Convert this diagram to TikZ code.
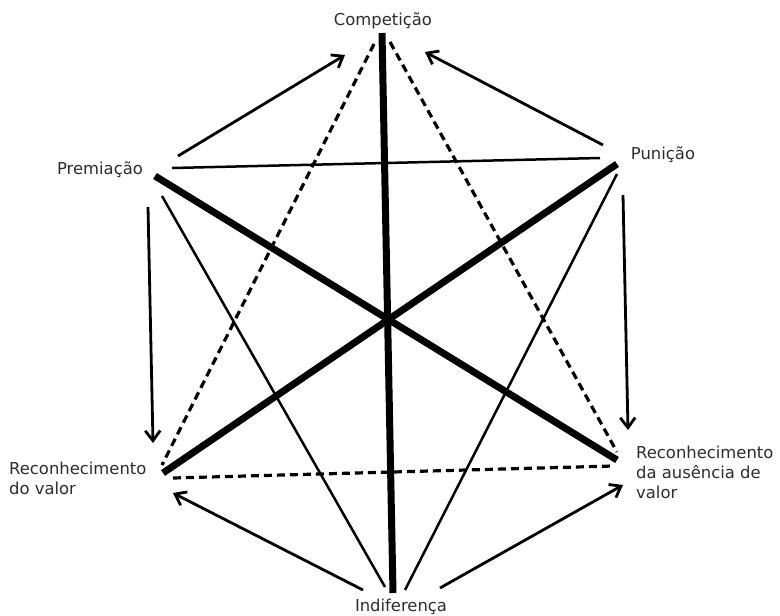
\documentclass[tikz,border=0pt]{standalone}
\usepackage{fontspec}
\setmainfont{DejaVu Sans}
\usetikzlibrary{arrows.meta}
\definecolor{txt}{RGB}{45,45,45}
\begin{document}
\begin{tikzpicture}[x=1pt,y=-1pt,
  lbl/.style={font=\fontsize{16.4}{20}\selectfont, text=txt, inner sep=0pt},
  thickln/.style={line width=7pt},
  thinln/.style={line width=2.5pt},
  dashln/.style={line width=3.2pt, dash pattern=on 8pt off 5pt},
  arr/.style={line width=2.8pt, -{Straight Barb[length=10pt,width=15pt,line width=2.8pt]}}]
\useasboundingbox[fill=white] (0,0) rectangle (780,616);
% labels
\node[lbl] (comp) at (383,21) {Competição};
\node[lbl] (prem) at (100,170) {Premiação};
\node[lbl] (pun) at (663,155) {Punição};
\node[lbl, anchor=west, align=left] (rval) at (9,478) {Reconhecimento\\do valor};
\node[lbl, anchor=west, align=left] (raus) at (636,472) {Reconhecimento\\da ausência de\\valor};
\node[lbl, anchor=base] (ind) at (401,611) {Indiferença};
% endpoints
\coordinate (c1) at (382,33);  \coordinate (i1) at (393,593);
\coordinate (p1) at (155,176); \coordinate (a1) at (617,460);
\coordinate (u1) at (617,164); \coordinate (v1) at (163,473);
\coordinate (p2) at (172,168); \coordinate (u2) at (600,158);
\coordinate (p3) at (162,196); \coordinate (i3) at (385,587);
\coordinate (u3) at (617,174); \coordinate (i4) at (405,590);
\coordinate (c2) at (374,44);  \coordinate (v2) at (162,465);
\coordinate (c3) at (390,42);  \coordinate (a2) at (617,452);
\coordinate (v3) at (173,478); \coordinate (a3) at (613,466);
\coordinate (p4) at (178,156); \coordinate (c4) at (345,55);
\coordinate (u4) at (603,145); \coordinate (c5) at (425,52);
\coordinate (p5) at (148,207); \coordinate (v5) at (153,443);
\coordinate (u5) at (623,195); \coordinate (a5) at (628,430);
\coordinate (i6) at (363,590); \coordinate (v6) at (173,493);
\coordinate (i7) at (440,588); \coordinate (a7) at (623,485);
% thick lines
\draw[thickln] (c1) -- (i1);
\draw[thickln] (p1) -- (a1);
\draw[thickln] (u1) -- (v1);
% thin lines
\draw[thinln] (p2) -- (u2);
\draw[thinln] (p3) -- (i3);
\draw[thinln] (u3) -- (i4);
% dashed
\draw[dashln] (c2) -- (v2);
\draw[dashln] (c3) -- (a2);
\draw[dashln] (v3) -- (a3);
% arrows
\draw[arr] (p4) -- (c4);
\draw[arr] (u4) -- (c5);
\draw[arr] (p5) -- (v5);
\draw[arr] (u5) -- (a5);
\draw[arr] (i6) -- (v6);
\draw[arr] (i7) -- (a7);
\end{tikzpicture}
\end{document}
